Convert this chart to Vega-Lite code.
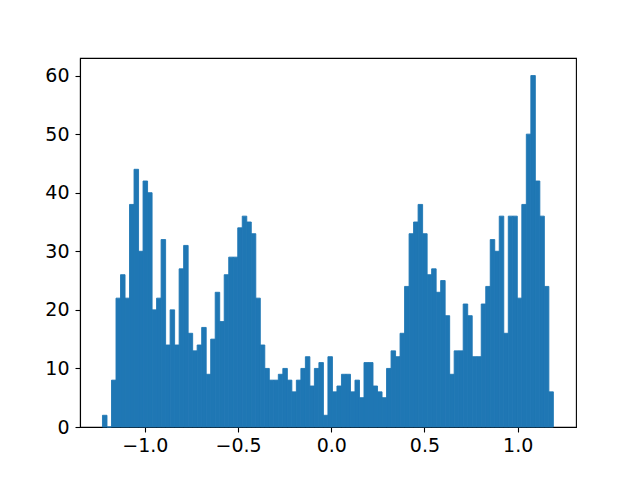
{
  "$schema": "https://vega.github.io/schema/vega-lite/v6.json",
  "width": 496,
  "height": 369,
  "autosize": {"type": "none"},
  "padding": {"left": 80, "top": 58, "right": 64, "bottom": 53},
  "background": "white",
  "config": {
    "view": {"stroke": "black", "strokeWidth": 1.1},
    "axis": {
      "labelFont": "DejaVu Sans",
      "labelFontSize": 19,
      "labelColor": "black",
      "domainColor": "black",
      "domainWidth": 1.1,
      "tickColor": "black",
      "tickWidth": 1.1,
      "tickSize": 5,
      "grid": false,
      "title": null
    }
  },
  "data": {
    "values": [
      {"x0": -1.2274, "x1": -1.2032, "count": 2},
      {"x0": -1.2032, "x1": -1.1790, "count": 0},
      {"x0": -1.1790, "x1": -1.1548, "count": 8},
      {"x0": -1.1548, "x1": -1.1306, "count": 22},
      {"x0": -1.1306, "x1": -1.1064, "count": 26},
      {"x0": -1.1064, "x1": -1.0823, "count": 22},
      {"x0": -1.0823, "x1": -1.0581, "count": 38},
      {"x0": -1.0581, "x1": -1.0339, "count": 44},
      {"x0": -1.0339, "x1": -1.0097, "count": 30},
      {"x0": -1.0097, "x1": -0.9855, "count": 42},
      {"x0": -0.9855, "x1": -0.9613, "count": 40},
      {"x0": -0.9613, "x1": -0.9371, "count": 20},
      {"x0": -0.9371, "x1": -0.9129, "count": 22},
      {"x0": -0.9129, "x1": -0.8887, "count": 32},
      {"x0": -0.8887, "x1": -0.8645, "count": 14},
      {"x0": -0.8645, "x1": -0.8404, "count": 20},
      {"x0": -0.8404, "x1": -0.8162, "count": 14},
      {"x0": -0.8162, "x1": -0.7920, "count": 27},
      {"x0": -0.7920, "x1": -0.7678, "count": 31},
      {"x0": -0.7678, "x1": -0.7436, "count": 16},
      {"x0": -0.7436, "x1": -0.7194, "count": 13},
      {"x0": -0.7194, "x1": -0.6952, "count": 14},
      {"x0": -0.6952, "x1": -0.6710, "count": 17},
      {"x0": -0.6710, "x1": -0.6468, "count": 9},
      {"x0": -0.6468, "x1": -0.6226, "count": 15},
      {"x0": -0.6226, "x1": -0.5985, "count": 23},
      {"x0": -0.5985, "x1": -0.5743, "count": 18},
      {"x0": -0.5743, "x1": -0.5501, "count": 26},
      {"x0": -0.5501, "x1": -0.5259, "count": 29},
      {"x0": -0.5259, "x1": -0.5017, "count": 29},
      {"x0": -0.5017, "x1": -0.4775, "count": 34},
      {"x0": -0.4775, "x1": -0.4533, "count": 36},
      {"x0": -0.4533, "x1": -0.4291, "count": 35},
      {"x0": -0.4291, "x1": -0.4049, "count": 33},
      {"x0": -0.4049, "x1": -0.3807, "count": 22},
      {"x0": -0.3807, "x1": -0.3566, "count": 14},
      {"x0": -0.3566, "x1": -0.3324, "count": 10},
      {"x0": -0.3324, "x1": -0.3082, "count": 8},
      {"x0": -0.3082, "x1": -0.2840, "count": 8},
      {"x0": -0.2840, "x1": -0.2598, "count": 9},
      {"x0": -0.2598, "x1": -0.2356, "count": 10},
      {"x0": -0.2356, "x1": -0.2114, "count": 8},
      {"x0": -0.2114, "x1": -0.1872, "count": 6},
      {"x0": -0.1872, "x1": -0.1630, "count": 8},
      {"x0": -0.1630, "x1": -0.1388, "count": 10},
      {"x0": -0.1388, "x1": -0.1147, "count": 12},
      {"x0": -0.1147, "x1": -0.0905, "count": 7},
      {"x0": -0.0905, "x1": -0.0663, "count": 10},
      {"x0": -0.0663, "x1": -0.0421, "count": 11},
      {"x0": -0.0421, "x1": -0.0179, "count": 2},
      {"x0": -0.0179, "x1": 0.0063, "count": 12},
      {"x0": 0.0063, "x1": 0.0305, "count": 6},
      {"x0": 0.0305, "x1": 0.0547, "count": 7},
      {"x0": 0.0547, "x1": 0.0789, "count": 9},
      {"x0": 0.0789, "x1": 0.1031, "count": 9},
      {"x0": 0.1031, "x1": 0.1272, "count": 6},
      {"x0": 0.1272, "x1": 0.1514, "count": 8},
      {"x0": 0.1514, "x1": 0.1756, "count": 5},
      {"x0": 0.1756, "x1": 0.1998, "count": 11},
      {"x0": 0.1998, "x1": 0.2240, "count": 11},
      {"x0": 0.2240, "x1": 0.2482, "count": 7},
      {"x0": 0.2482, "x1": 0.2724, "count": 6},
      {"x0": 0.2724, "x1": 0.2966, "count": 5},
      {"x0": 0.2966, "x1": 0.3208, "count": 10},
      {"x0": 0.3208, "x1": 0.3450, "count": 13},
      {"x0": 0.3450, "x1": 0.3691, "count": 12},
      {"x0": 0.3691, "x1": 0.3933, "count": 16},
      {"x0": 0.3933, "x1": 0.4175, "count": 24},
      {"x0": 0.4175, "x1": 0.4417, "count": 33},
      {"x0": 0.4417, "x1": 0.4659, "count": 35},
      {"x0": 0.4659, "x1": 0.4901, "count": 38},
      {"x0": 0.4901, "x1": 0.5143, "count": 33},
      {"x0": 0.5143, "x1": 0.5385, "count": 26},
      {"x0": 0.5385, "x1": 0.5627, "count": 27},
      {"x0": 0.5627, "x1": 0.5869, "count": 23},
      {"x0": 0.5869, "x1": 0.6110, "count": 25},
      {"x0": 0.6110, "x1": 0.6352, "count": 19},
      {"x0": 0.6352, "x1": 0.6594, "count": 9},
      {"x0": 0.6594, "x1": 0.6836, "count": 13},
      {"x0": 0.6836, "x1": 0.7078, "count": 13},
      {"x0": 0.7078, "x1": 0.7320, "count": 21},
      {"x0": 0.7320, "x1": 0.7562, "count": 19},
      {"x0": 0.7562, "x1": 0.7804, "count": 12},
      {"x0": 0.7804, "x1": 0.8046, "count": 12},
      {"x0": 0.8046, "x1": 0.8288, "count": 21},
      {"x0": 0.8288, "x1": 0.8529, "count": 24},
      {"x0": 0.8529, "x1": 0.8771, "count": 32},
      {"x0": 0.8771, "x1": 0.9013, "count": 30},
      {"x0": 0.9013, "x1": 0.9255, "count": 36},
      {"x0": 0.9255, "x1": 0.9497, "count": 16},
      {"x0": 0.9497, "x1": 0.9739, "count": 36},
      {"x0": 0.9739, "x1": 0.9981, "count": 36},
      {"x0": 0.9981, "x1": 1.0223, "count": 22},
      {"x0": 1.0223, "x1": 1.0465, "count": 38},
      {"x0": 1.0465, "x1": 1.0707, "count": 50},
      {"x0": 1.0707, "x1": 1.0948, "count": 60},
      {"x0": 1.0948, "x1": 1.1190, "count": 42},
      {"x0": 1.1190, "x1": 1.1432, "count": 36},
      {"x0": 1.1432, "x1": 1.1674, "count": 24},
      {"x0": 1.1674, "x1": 1.1916, "count": 6}
    ]
  },
  "mark": {"type": "rect", "color": "#1f77b4", "stroke": "#1f77b4", "strokeWidth": 0.9, "strokeOpacity": 1, "strokeJoin": "miter"},
  "encoding": {
    "x": {
      "field": "x0",
      "type": "quantitative",
      "scale": {"domain": [-1.348, 1.313], "nice": false, "zero": false},
      "axis": {"values": [-1.0, -0.5, 0.0, 0.5, 1.0], "format": ".1f", "labelPadding": 4, "labelFlush": false}
    },
    "x2": {"field": "x1"},
    "y": {
      "field": "count",
      "type": "quantitative",
      "scale": {"domain": [0, 63], "nice": false},
      "axis": {"values": [0, 10, 20, 30, 40, 50, 60], "labelPadding": 6, "labelFlush": false}
    },
    "y2": {"datum": 0}
  }
}
